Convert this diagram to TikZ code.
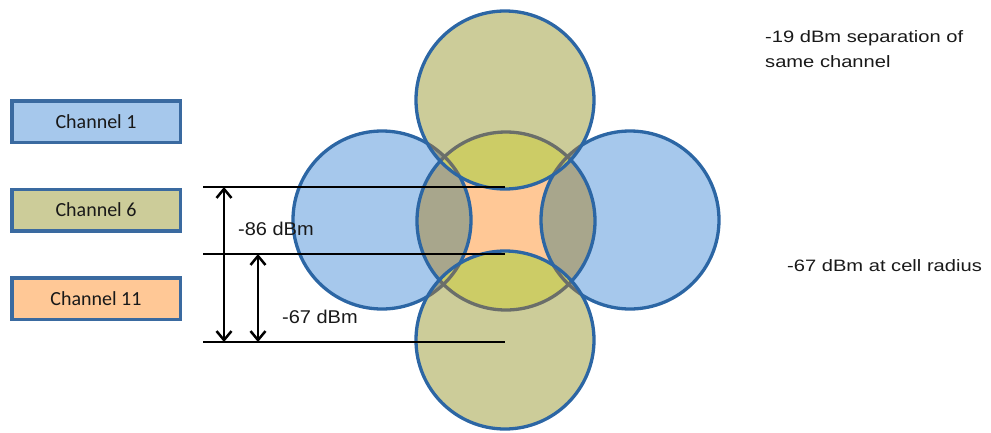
\documentclass[tikz,border=0pt]{standalone}
\usepackage{fontspec}
\usetikzlibrary{arrows.meta}
\newfontfamily\lgdfont{Carlito}
\newfontfamily\sidefont[FakeStretch=1.22]{Liberation Sans}
\newfontfamily\dimfont[FakeStretch=1.08]{Liberation Sans}
\definecolor{cblue}{HTML}{A6C8EC}
\definecolor{colive}{HTML}{CCCC99}
\definecolor{corange}{HTML}{FFC896}
\definecolor{ctan}{HTML}{A8A68C}
\definecolor{cyel}{HTML}{CCCC66}
\definecolor{cgol}{HTML}{9A9E8A}
\definecolor{edge}{HTML}{2C66A4}
\definecolor{gedge}{HTML}{6A6E6A}
\definecolor{lgdedge}{HTML}{3A6AA0}
\begin{document}
\begin{tikzpicture}[x=1pt,y=-1pt,
  legend/.style={draw=lgdedge,line width=3.5pt,minimum width=168.5pt,minimum height=41.5pt,inner sep=0pt,font=\lgdfont\fontsize{20}{22}\selectfont,text=black!90},
  ring/.style={draw=edge,line width=3.3pt},
  gring/.style={draw=gedge,line width=3.3pt},
  refline/.style={draw=black,line width=2.5pt},
  dimarrow/.style={draw=black,line width=2.5pt,{Straight Barb[length=9pt,width=15pt]}-{Straight Barb[length=9pt,width=15pt]}},
  sidetext/.style={anchor=base west,inner sep=0pt,align=left,font=\sidefont\fontsize{16.5}{25}\selectfont,text=black!90},
  dimtext/.style={anchor=base west,inner sep=0pt,font=\dimfont\fontsize{18.5}{22}\selectfont,text=black!90}]
\useasboundingbox (0,0) rectangle (991,432);
\def\R{89pt}
% centres
\coordinate (L) at (382,220);
\coordinate (Rr) at (630,220);
\coordinate (C) at (506,221);
\coordinate (T) at (505,100);
\coordinate (B) at (505,340);
% side circles
\fill[cblue] (L) circle[radius=\R];
\fill[cblue] (Rr) circle[radius=\R];
% centre circle
\fill[corange] (C) circle[radius=\R];
\begin{scope}
  \clip (C) circle[radius=\R];
  \fill[ctan] (L) circle[radius=\R];
  \fill[ctan] (Rr) circle[radius=\R];
\end{scope}
\draw[ring] (L) circle[radius=\R];
\draw[ring] (Rr) circle[radius=\R];
\draw[ring] (C) circle[radius=\R];
% top and bottom circles
\foreach \P in {T,B}{
  \fill[colive] (\P) circle[radius=\R];
  \begin{scope}
    \clip (\P) circle[radius=\R];
    \fill[cgol] (L) circle[radius=\R];
    \fill[cgol] (Rr) circle[radius=\R];
    \fill[cyel] (C) circle[radius=\R];
    \draw[gring] (L) circle[radius=\R];
    \draw[gring] (Rr) circle[radius=\R];
    \draw[gring] (C) circle[radius=\R];
  \end{scope}
}
\draw[ring] (T) circle[radius=\R];
\draw[ring] (B) circle[radius=\R];
% reference lines
\coordinate (h1a) at (203,187); \coordinate (h1b) at (505,187);
\coordinate (h2a) at (203,254); \coordinate (h2b) at (505,254);
\coordinate (h3a) at (203,342); \coordinate (h3b) at (505,342);
\draw[refline] (h1a) -- (h1b);
\draw[refline] (h2a) -- (h2b);
\draw[refline] (h3a) -- (h3b);
\coordinate (a1t) at (224,187); \coordinate (a1b) at (224,342);
\coordinate (a2t) at (258,254); \coordinate (a2b) at (258,342);
\draw[dimarrow] (a1t) -- (a1b);
\draw[dimarrow] (a2t) -- (a2b);
\node[dimtext] (d86) at (238,235) {-86 dBm};
\node[dimtext] (d67) at (282,323) {-67 dBm};
% legend
\node[legend,fill=cblue] (ch1) at (96,121.5) {Channel 1};
\node[legend,fill=colive] (ch6) at (96,210) {Channel 6};
\node[legend,fill=corange] (ch11) at (96,298.5) {Channel 11};
% side notes
\node[sidetext] (sep) at (765,67) {-19 dBm separation of\\same channel};
\node[sidetext] (cell) at (787,271) {-67 dBm at cell radius};
\end{tikzpicture}
\end{document}
